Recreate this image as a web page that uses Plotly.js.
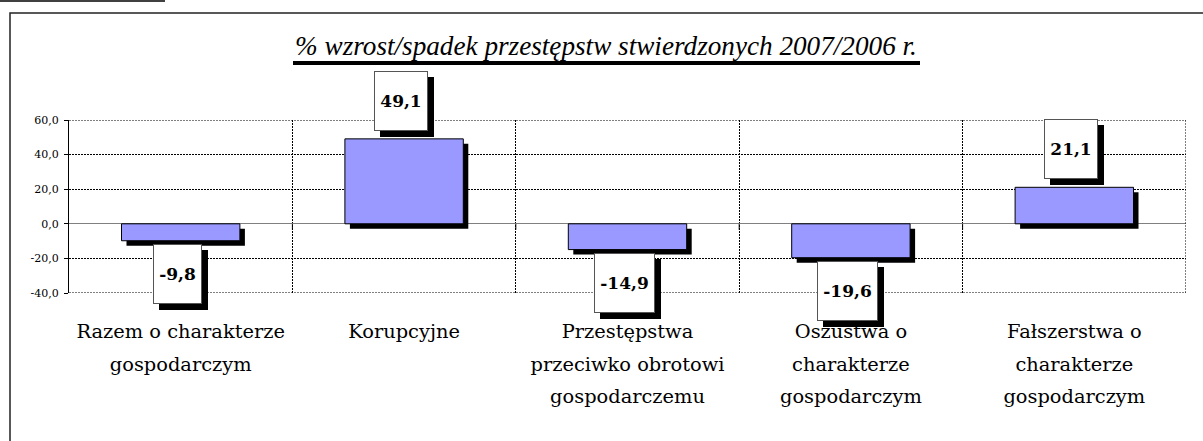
<!DOCTYPE html>
<html><head><meta charset="utf-8">
<script src="https://cdn.plot.ly/plotly-3.0.1.min.js"></script>
<style>html,body{margin:0;padding:0;background:#fff;overflow:hidden}#chart{width:1203px;height:441px}</style>
</head><body><div id="chart"></div>
<script>
// ---- data ----
const categories = ['Razem o charakterze gospodarczym', 'Korupcyjne', 'Przestępstwa przeciwko obrotowi gospodarczemu', 'Oszustwa o charakterze gospodarczym', 'Fałszerstwa o charakterze gospodarczym'];
const categoryLines = [['Razem o charakterze', 'gospodarczym'], ['Korupcyjne'], ['Przestępstwa', 'przeciwko obrotowi', 'gospodarczemu'], ['Oszustwa o', 'charakterze', 'gospodarczym'], ['Fałszerstwa o', 'charakterze', 'gospodarczym']];
const changePct = [-9.8, 49.1, -14.9, -19.6, 21.1];
const valueLabels = ['-9,8', '49,1', '-14,9', '-19,6', '21,1'];
const yTickVals = [-40, -20, 0, 20, 40, 60];
const yTickText = ['-40,0', '-20,0', '0,0', '20,0', '40,0', '60,0'];
const titleText = '% wzrost/spadek przestępstw stwierdzonych 2007/2006 r.';

// ---- layout geometry ----
const W = 1203, H = 441;
const M = {l: 69, r: 17, t: 120, b: 148};
const plotW = W - M.l - M.r, plotH = H - M.t - M.b;
const yMin = -40, yMax = 60;
const pxPerUnit = plotH / (yMax - yMin);
const catW = plotW / categories.length;
const barW = 0.53;
const shadowPx = 5;
const shDx = shadowPx / catW, shDy = shadowPx / pxPerUnit;
const px2x = p => (p - M.l) / plotW;
const px2y = p => (H - M.b - p) / plotH;
const FONT = 'DejaVu Serif, serif';
const GRID_DASH = '2px,1px';
const LABEL_SIZE = 17;

const ctx = document.createElement('canvas').getContext('2d');
ctx.font = 'bold ' + LABEL_SIZE + 'px "DejaVu Serif"';
const textW = t => Math.ceil(ctx.measureText(t).width);

const shadowTrace = {
  type: 'bar', x: categories, y: changePct,
  base: changePct.map(() => -shDy),
  width: barW, offset: -barW / 2 + shDx,
  marker: {color: '#000', line: {width: 0}},
  hoverinfo: 'skip', showlegend: false
};
const barTrace = {
  type: 'bar', x: categories, y: changePct,
  width: barW, offset: -barW / 2,
  marker: {color: '#9999FF', line: {color: '#000', width: 1}},
  showlegend: false
};

const annotations = [];
categories.forEach((c, i) => {
  const v = changePct[i];
  const pos = v >= 0;
  const base = {
    x: c, y: v, xref: 'x', yref: 'y', showarrow: false,
    font: {family: FONT, size: LABEL_SIZE, weight: 'bold', color: '#000'},
    width: textW(valueLabels[i]), height: 48, borderpad: 5, borderwidth: 1,
    xanchor: 'center', yanchor: pos ? 'bottom' : 'top'
  };
  const xs = -3, ys = pos ? 8 : -3.5;
  annotations.push(Object.assign({}, base, {
    text: ' ', bgcolor: '#000', bordercolor: '#000', xshift: xs + 6, yshift: ys - 6
  }));
  annotations.push(Object.assign({}, base, {
    text: valueLabels[i], bgcolor: '#fff', bordercolor: '#555', xshift: xs, yshift: ys
  }));
});

const nCat = categories.length;
const shapes = [
  // outer frame
  {type: 'rect', xref: 'paper', yref: 'paper', x0: px2x(10), x1: px2x(1215), y0: px2y(13), y1: px2y(460),
   line: {color: '#222', width: 1.5}, fillcolor: 'rgba(0,0,0,0)'},
  // top-left fragment line
  {type: 'line', xref: 'paper', yref: 'paper', x0: px2x(0), x1: px2x(165), y0: px2y(1), y1: px2y(1),
   line: {color: '#000', width: 1.5}},
  // title underline
  {type: 'line', xref: 'paper', yref: 'paper', x0: px2x(293), x1: px2x(920), y0: px2y(63), y1: px2y(63),
   line: {color: '#000', width: 4}},
  // plot-area dotted edges (grid at range ends)
  {type: 'line', xref: 'paper', yref: 'y', x0: 0, x1: 1, y0: yMax, y1: yMax, line: {color: '#000', width: 1, dash: GRID_DASH}},
  {type: 'line', xref: 'paper', yref: 'y', x0: 0, x1: 1, y0: yMin, y1: yMin, line: {color: '#000', width: 1, dash: GRID_DASH}},
  {type: 'line', xref: 'x', yref: 'paper', x0: nCat - 0.5, x1: nCat - 0.5, y0: 0, y1: 1, line: {color: '#000', width: 1, dash: GRID_DASH}}
];
for (let i = 1; i < nCat; i++) {
  shapes.push({type: 'line', xref: 'x', yref: 'y', x0: i - 0.5, x1: i - 0.5,
    ysizemode: 'pixel', yanchor: 0, y0: 0, y1: -6, line: {color: '#000', width: 1}});
}

const layout = {
  width: W, height: H, margin: M,
  paper_bgcolor: '#fff', plot_bgcolor: '#fff',
  barmode: 'overlay',
  font: {family: FONT, color: '#000'},
  title: {
    text: titleText,
    font: {family: 'Liberation Serif, serif', size: 27.2, style: 'italic', color: '#000'},
    xref: 'container', yref: 'container', x: 606 / W, xanchor: 'center',
    y: 1 - 45 / H, yanchor: 'middle'
  },
  xaxis: {
    type: 'category', tickson: 'boundaries',
    tickmode: 'array', tickvals: categories,
    ticktext: categoryLines.map(ls => ls.map(l => '<span style="font-size:19.4px">' + l + '</span>').join('<br>')),
    tickfont: {family: FONT, size: 25, color: '#000'},
    ticklabelstandoff: 19,
    showgrid: true, gridcolor: '#000', griddash: GRID_DASH, gridwidth: 1,
    ticks: '', showline: false, zeroline: false,
    range: [-0.5, nCat - 0.5], fixedrange: true
  },
  yaxis: {
    range: [yMin, yMax], tickmode: 'array', tickvals: yTickVals, ticktext: yTickText,
    tickfont: {family: FONT, size: 11, color: '#000'},
    ticklabelstandoff: 3,
    showgrid: true, gridcolor: '#000', griddash: GRID_DASH, gridwidth: 1,
    zeroline: true, zerolinecolor: '#808080', zerolinewidth: 1,
    showline: true, linecolor: '#000', linewidth: 1,
    ticks: 'outside', ticklen: 4, tickcolor: '#000', fixedrange: true
  },
  annotations: annotations,
  shapes: shapes
};

Plotly.newPlot('chart', [shadowTrace, barTrace], layout, {displayModeBar: false, staticPlot: true});
</script></body></html>
